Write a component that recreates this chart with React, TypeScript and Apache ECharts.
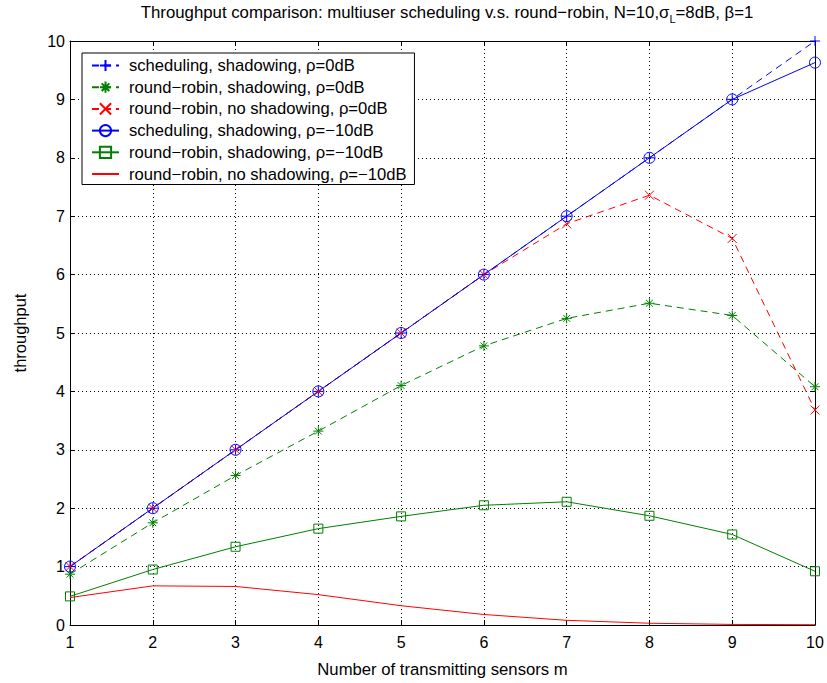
import React, { useEffect, useRef } from 'react';
import * as echarts from 'echarts';

const mValues = [1, 2, 3, 4, 5, 6, 7, 8, 9, 10];
const schedShadow0 = [1, 2, 3, 4, 5, 6, 7, 8, 9, 10];
const rrShadow0 = [0.87, 1.75, 2.56, 3.32, 4.1, 4.78, 5.25, 5.51, 5.3, 4.08];
const rrNoShadow0 = [1, 2, 3, 4, 5, 6, 6.87, 7.36, 6.62, 3.68];
const schedShadow10 = [1, 2, 3, 4, 5, 6, 7, 8, 9, 9.63];
const rrShadow10 = [0.49, 0.95, 1.34, 1.65, 1.86, 2.05, 2.11, 1.87, 1.55, 0.92];
const rrNoShadow10 = [0.47, 0.67, 0.66, 0.52, 0.33, 0.18, 0.08, 0.03, 0.01, 0.005];

const seriesNames = [
  'scheduling, shadowing, ρ=0dB',
  'round−robin, shadowing, ρ=0dB',
  'round−robin, no shadowing, ρ=0dB',
  'scheduling, shadowing, ρ=−10dB',
  'round−robin, shadowing, ρ=−10dB',
  'round−robin, no shadowing, ρ=−10dB',
];

const BLUE = '#0000ff';
const GREEN = '#008000';
const RED = '#ff0000';
const FONT = 'Liberation Sans, Arial, Helvetica, sans-serif';

const PLUS = 'path://M5,0L5,10M0,5L10,5';
const CROSS = 'path://M0,0L10,10M0,10L10,0';
const STAR = 'path://M5,0L5,10M0,5L10,5M1.6,1.6L8.4,8.4M1.6,8.4L8.4,1.6';

function pairs(ys: number[]) {
  return mValues.map((x, i) => [x, ys[i]]);
}

function mk(name: string, ys: number[], color: string, dashed: boolean, symbol: string, size: number) {
  const none = symbol === 'none';
  return {
    name,
    type: 'line',
    data: pairs(ys),
    symbol,
    symbolSize: size,
    showSymbol: !none,
    lineStyle: { color, width: 1, type: dashed ? [7, 5] : 'solid' },
    itemStyle: { color: 'rgba(0,0,0,0)', borderColor: none ? 'rgba(0,0,0,0)' : color, borderWidth: none ? 0 : 1 },
    emphasis: { disabled: true },
  };
}

export default function App() {
  const ref = useRef<HTMLDivElement>(null);
  useEffect(() => {
    if (!ref.current) return;
    const chart = echarts.init(ref.current, undefined, { renderer: 'svg' });
    const axisCommon = {
      type: 'value',
      min: 1,
      max: 10,
      interval: 1,
    };
    chart.setOption({
      animation: false,
      backgroundColor: '#fff',
      graphic: [
        {
          type: 'text',
          x: 447,
          y: 4,
          silent: true,
          style: {
            text: '{a|Throughput comparison: multiuser scheduling v.s. round−robin, N=10,σ}{s|L}{a|=8dB, β=1}',
            align: 'center',
            textAlign: 'center',
            verticalAlign: 'top',
            rich: {
              a: { fontSize: 16.8, fontWeight: 'normal', fontFamily: FONT, fill: '#000', color: '#000', lineHeight: 20, verticalAlign: 'top' },
              s: { fontSize: 11, fontWeight: 'normal', fontFamily: FONT, fill: '#000', color: '#000', lineHeight: 20, verticalAlign: 'top', padding: [9, 0, 0, 0] },
            },
          },
        },
      ],
      legend: {
        orient: 'vertical',
        left: 82,
        top: 53,
        itemWidth: 27,
        itemHeight: 14,
        itemGap: 4.7,
        padding: [4, 8, 2, 9],
        borderColor: '#000',
        borderWidth: 1,
        borderRadius: 0,
        backgroundColor: '#fff',
        selectedMode: false,
        textStyle: { fontSize: 16.6, lineHeight: 17, fontFamily: FONT, color: '#000', padding: [0, 0, 0, 5] },
        data: seriesNames,
      },
      grid: { left: 70, right: 12, top: 41, bottom: 55 },
      xAxis: [
        {
          ...axisCommon,
          position: 'bottom',
          name: 'Number of transmitting sensors m',
          nameLocation: 'middle',
          nameGap: 36,
          nameTextStyle: { fontSize: 16.7, fontFamily: FONT, color: '#000' },
          axisLine: { show: true, onZero: false, lineStyle: { color: '#000', width: 1 } },
          axisTick: { show: true, inside: true, length: 5, lineStyle: { color: '#000' } },
          axisLabel: { fontSize: 16, fontFamily: FONT, color: '#000', margin: 9 },
          splitLine: { show: true, lineStyle: { color: '#000', width: 1, type: [1, 3] } },
        },
        {
          ...axisCommon,
          position: 'top',
          axisLine: { show: true, onZero: false, lineStyle: { color: '#000', width: 1 } },
          axisTick: { show: true, inside: true, length: 5, lineStyle: { color: '#000' } },
          axisLabel: { show: false },
          splitLine: { show: false },
        },
      ],
      yAxis: [
        {
          type: 'value',
          min: 0,
          max: 10,
          interval: 1,
          position: 'left',
          name: 'throughput',
          nameLocation: 'middle',
          nameGap: 42,
          nameTextStyle: { fontSize: 16.5, fontFamily: FONT, color: '#000' },
          axisLine: { show: true, onZero: false, lineStyle: { color: '#000', width: 1 } },
          axisTick: { show: true, inside: true, length: 5, lineStyle: { color: '#000' } },
          axisLabel: { fontSize: 16, fontFamily: FONT, color: '#000', margin: 5 },
          splitLine: { show: true, lineStyle: { color: '#000', width: 1, type: [1, 3] } },
        },
        {
          type: 'value',
          min: 0,
          max: 10,
          interval: 1,
          position: 'right',
          axisLine: { show: true, onZero: false, lineStyle: { color: '#000', width: 1 } },
          axisTick: { show: true, inside: true, length: 5, lineStyle: { color: '#000' } },
          axisLabel: { show: false },
          splitLine: { show: false },
        },
      ],
      series: [
        mk(seriesNames[0], schedShadow0, BLUE, true, PLUS, 10),
        mk(seriesNames[1], rrShadow0, GREEN, true, STAR, 10),
        mk(seriesNames[2], rrNoShadow0, RED, true, CROSS, 9),
        mk(seriesNames[3], schedShadow10, BLUE, false, 'circle', 11),
        mk(seriesNames[4], rrShadow10, GREEN, false, 'rect', 9),
        mk(seriesNames[5], rrNoShadow10, RED, false, 'none', 0),
      ],
    });
    return () => chart.dispose();
  }, []);
  return <div ref={ref} style={{ width: 827, height: 683, position: 'absolute', left: 0, top: 0 }} />;
}
